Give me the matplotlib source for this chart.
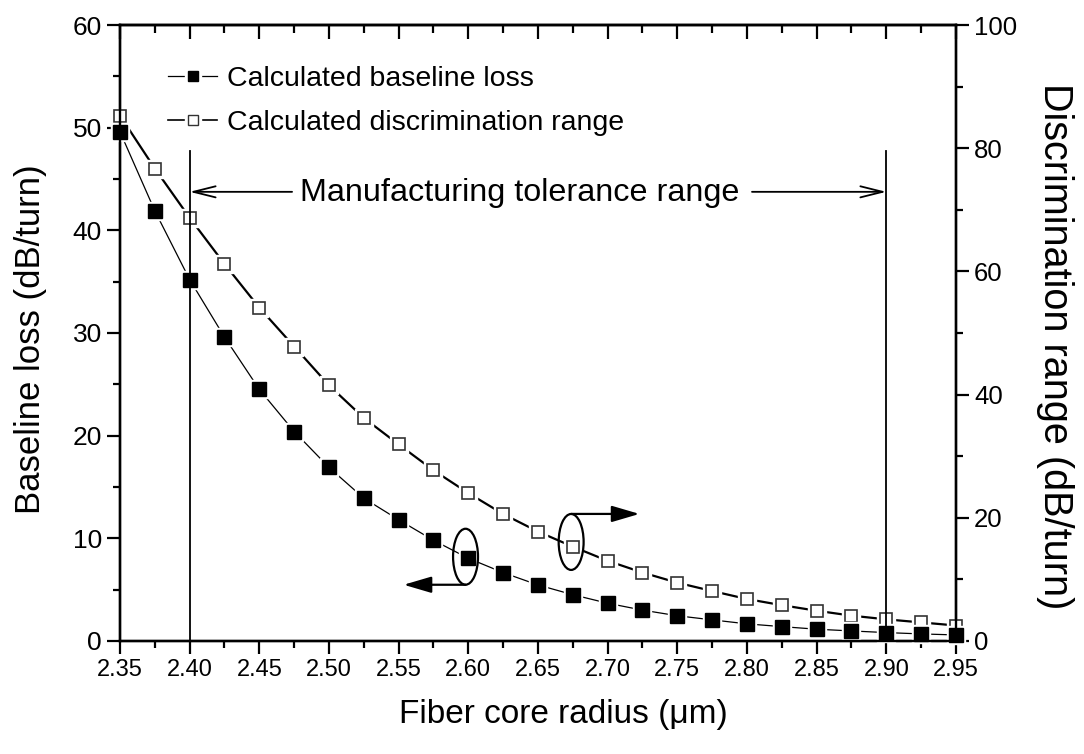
import matplotlib
matplotlib.use("Agg")
import matplotlib.pyplot as plt
from matplotlib.patches import Ellipse
from matplotlib.ticker import MultipleLocator, FormatStrFormatter

plt.rcParams['font.family'] = ['Liberation Sans', 'DejaVu Sans']

radius = [2.35, 2.375, 2.40, 2.425, 2.45, 2.475, 2.50, 2.525, 2.55, 2.575,
          2.60, 2.625, 2.65, 2.675, 2.70, 2.725, 2.75, 2.775, 2.80, 2.825,
          2.85, 2.875, 2.90, 2.925, 2.95]
baseline_loss = [49.6, 41.9, 35.2, 29.6, 24.5, 20.4, 16.9, 13.9, 11.8, 9.8,
                 8.05, 6.65, 5.45, 4.5, 3.67, 3.0, 2.45, 2.05, 1.66, 1.39,
                 1.14, 0.97, 0.81, 0.68, 0.58]
discrimination = [85.3, 76.7, 68.7, 61.2, 54.1, 47.8, 41.5, 36.2, 31.9, 27.7,
                  24.0, 20.6, 17.75, 15.3, 13.0, 11.1, 9.45, 8.1, 6.8, 5.8,
                  4.9, 4.1, 3.5, 3.0, 2.5]
tolerance = [2.40, 2.90]

fig = plt.figure(figsize=(10.84, 7.54), dpi=100)
ax = fig.add_axes([0.1107, 0.150, 0.7712, 0.8168])
ax2 = ax.twinx()
ax.set_zorder(2)
ax2.set_zorder(1)
ax.patch.set_visible(False)

# filled series (left axis)
ax.plot(radius, baseline_loss, color='k', lw=0.9, zorder=1, clip_on=False)
ax.plot(radius, baseline_loss, ls='none', marker='s', ms=13.5, mfc='white', mec='white', zorder=2, clip_on=False)
ax.plot(radius, baseline_loss, ls='none', marker='s', ms=9.6, mfc='k', mec='k', zorder=3, clip_on=False)

# open series (right axis)
ax2.plot(radius, discrimination, color='k', lw=1.6, zorder=1, clip_on=False)
ax2.plot(radius, discrimination, ls='none', marker='s', ms=12.5, mfc='white', mec='white', zorder=2, clip_on=False)
ax2.plot(radius, discrimination, ls='none', marker='s', ms=8.8, mfc='white', mec='#333333', mew=1.2, zorder=3, clip_on=False)

ax.set_xlim(2.35, 2.95)
ax.set_ylim(0, 60)
ax2.set_ylim(0, 100)

# tolerance lines
for xv in tolerance:
    ax.plot([xv, xv], [0, 47.7], color='k', lw=1.3, zorder=5)

ax.text(2.637, 43.6, 'Manufacturing tolerance range', fontsize=23.3,
        ha='center', va='center', zorder=6)
ax.annotate('', xy=(2.40, 43.75), xytext=(2.4735, 43.75),
            arrowprops=dict(arrowstyle='->,head_length=0.8,head_width=0.2',
                            lw=1.3, color='k', shrinkA=0, shrinkB=0, mutation_scale=20), zorder=6)
ax.annotate('', xy=(2.90, 43.75), xytext=(2.8036, 43.75),
            arrowprops=dict(arrowstyle='->,head_length=0.8,head_width=0.2',
                            lw=1.3, color='k', shrinkA=0, shrinkB=0, mutation_scale=20), zorder=6)

# ellipses and pointing arrows
e1 = Ellipse((2.598, 8.2), 0.0179, 5.45, fill=False, lw=1.6, ec='k', zorder=6)
e2 = Ellipse((2.6738, 9.64), 0.0179, 5.45, fill=False, lw=1.6, ec='k', zorder=6)
ax.add_patch(e1)
ax.add_patch(e2)
ax.annotate('', xy=(2.5536, 5.47), xytext=(2.598, 5.47),
            arrowprops=dict(arrowstyle='-|>,head_length=0.85,head_width=0.25',
                            lw=1.6, color='k', fc='k', shrinkA=0, shrinkB=0, mutation_scale=20), zorder=6)
ax.annotate('', xy=(2.7228, 12.37), xytext=(2.6738, 12.37),
            arrowprops=dict(arrowstyle='-|>,head_length=0.85,head_width=0.25',
                            lw=1.6, color='k', fc='k', shrinkA=0, shrinkB=0, mutation_scale=20), zorder=6)

# ticks
ax.xaxis.set_major_locator(MultipleLocator(0.05))
ax.xaxis.set_minor_locator(MultipleLocator(0.025))
ax.yaxis.set_major_locator(MultipleLocator(10))
ax.yaxis.set_minor_locator(MultipleLocator(5))
ax2.yaxis.set_major_locator(MultipleLocator(20))
ax2.yaxis.set_minor_locator(MultipleLocator(10))
ax.xaxis.set_major_formatter(FormatStrFormatter('%.2f'))

ax.tick_params(axis='x', which='both', bottom=True, top=False, direction='out', labelsize=17)
ax.tick_params(axis='y', which='both', left=True, right=False, direction='out', labelsize=19)
ax.tick_params(which='major', length=9.4, width=1.6)
ax.tick_params(which='minor', length=5, width=1.6)
ax2.tick_params(axis='y', which='both', direction='out', labelsize=18.5)
ax2.tick_params(which='major', length=9.4, width=1.6)
ax2.tick_params(which='minor', length=5, width=1.6)

# top ticks inward via secondary x axis
sec = ax.secondary_xaxis('top')
sec.xaxis.set_major_locator(MultipleLocator(0.05))
sec.xaxis.set_minor_locator(MultipleLocator(0.025))
sec.tick_params(which='both', direction='in', labeltop=False, width=1.6)
sec.tick_params(which='major', length=10)
sec.tick_params(which='minor', length=5.5)

for a in (ax, ax2):
    for s in a.spines.values():
        s.set_linewidth(1.7)
sec.spines['top'].set_linewidth(1.7)

ax.set_xlabel('Fiber core radius (μm)', fontsize=24, va='center', ha='center')
ax.xaxis.set_label_coords(0.53, -0.119)
ax.set_ylabel('Baseline loss (dB/turn)', fontsize=25, va='center', ha='center')
ax.yaxis.set_label_coords(-0.107, 0.49)
ax2.set_ylabel('Discrimination range (dB/turn)', fontsize=28.5, rotation=270,
               va='center', ha='center')
ax2.yaxis.set_label_coords(1.119, 0.479)

# legend
h1 = (ax.plot([], [], color='k', lw=0.9)[0],
      ax.plot([], [], ls='none', marker='s', ms=11, mfc='white', mec='white')[0],
      ax.plot([], [], ls='none', marker='s', ms=7.5, mfc='k', mec='k')[0])
h2 = (ax.plot([], [], color='k', lw=1.2)[0],
      ax.plot([], [], ls='none', marker='s', ms=11, mfc='white', mec='white')[0],
      ax.plot([], [], ls='none', marker='s', ms=7, mfc='white', mec='#333333', mew=1.0)[0])
leg = ax.legend([h1, h2], ['Calculated baseline loss', 'Calculated discrimination range'],
                loc='upper left', bbox_to_anchor=(0.057, 0.933), frameon=False,
                fontsize=20.5, handlelength=1.75, handletextpad=0.33,
                labelspacing=0.62, borderaxespad=0, borderpad=0)

fig.savefig('out.png', dpi=100)
